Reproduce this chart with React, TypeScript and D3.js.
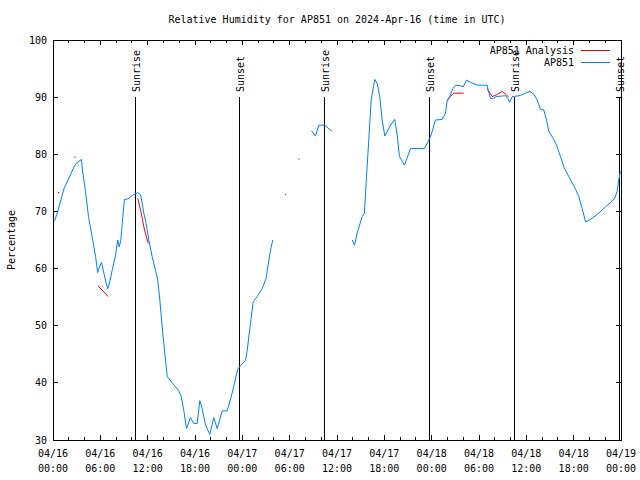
import React from "react";
import * as d3 from "d3";

const TITLE = "Relative Humidity for AP851 on 2024-Apr-16 (time in UTC)";
const Y_LABEL = "Percentage";
const SERIES_NAMES = ["AP851 Analysis", "AP851"];
const SERIES_COLORS = ["#ff0000", "#0080ff"];
const Y_TICKS = [30, 40, 50, 60, 70, 80, 90, 100];

// hours since 2024-04-16 00:00 UTC; NaN marks a gap
const ap851Hours = [
  0.2, 0.6, 1.4, 2.2, 2.85, 3.6, 3.78, 4.1, 4.5, 4.95, 5.4, 5.65, 5.9, 6.15, 6.45, 6.75, 6.95, 7.2, 7.5, 7.9,
  8.2, 8.4, 8.6, 8.85, 9.05, 9.5, 10.05, 10.75, 11.09, 11.31, 11.51, 11.81, 12.14, 12.57, 12.99, 13.28, 13.54,
  13.84, 14.17, 14.48, 15.11, 15.95, 16.25, 16.58, 16.92, 17.43, 17.85, 18.28, 18.61, 18.91, 19.33, 19.88,
  20.38, 20.81, 21.45, 22.08, 22.71, 23.42, 23.77, 24.4, 24.62, 25.03, 25.38, 25.88, 26.52, 27.02, 27.23,
  27.57, 27.86, NaN,
  29.47, NaN,
  31.16, NaN,
  32.77, 33.27, 33.69, 34.41, 35.39, NaN,
  37.93, 38.22, 38.56, 39.19, 39.48, 39.74, 40.03, 40.33, 40.79, 41.1, 41.42, 41.73, 42.06, 42.78, 43.32,
  43.63, 43.92, 44.55, 45.32, 47.09, 47.76, 48.07, 48.48, 49.33, 49.75, 49.97, 50.3, 50.68, 51.02, 51.66,
  52.0, 52.41, 52.92, 53.77, 55.04, 55.16, 55.46, 55.8, 56.22, 56.94, 57.36, 57.65, 57.9, 58.21, 58.84,
  59.26, 59.89, 60.44, 60.95, 61.38, 61.79, 62.21, 62.56, 62.85, 63.4, 63.82, 64.33, 64.75, 65.38, 66.1,
  66.65, 67.08, 67.5, 67.72, 68.35, 69.18, 70.03, 71.17, 71.51, 71.71, 71.93,
];
const ap851Values = [
  68.3, 70, 74, 76.4, 78.3, 79.1, 76.7, 73.7, 69.1, 65.6, 62.1, 59.3, 60.3, 61.1, 59.2, 57.4, 56.5, 57.7, 59.7, 62.1,
  65, 63.8, 65, 69.1, 72.1, 72.2, 72.8, 73.3, 72.9, 71.4, 69.7, 67.9, 65, 62.1, 59.7, 58, 54.5,
  49.8, 45.2, 41.1, 40, 38.6, 37.6, 35.2, 32, 33.9, 32.9, 32.9, 36.9, 35.5, 32.6, 31,
  33.9, 32, 35.1, 35.1, 38.2, 42.4, 43, 43.9, 45.7, 50.4, 54.2, 55.1, 56.5, 58.3, 60.3,
  63.2, 65, NaN,
  73, NaN,
  79.2, NaN,
  84.1, 83.2, 85.1, 85.1, 84, NaN,
  65, 64.1, 66.2, 69.1, 69.7, 76.1, 82.5, 89.5, 93.1, 92.4, 90.1, 86, 83.2, 85.1, 86.1,
  83.4, 79.6, 78.1, 81, 81, 82.8, 84, 86, 86.1, 87.2, 89.4, 90.1, 91.5, 92.1, 92,
  91.8, 93, 92.6, 92.1, 92.1, 91.25, 89.8, 89.8, 90.1, 90.2, 90.25, 89.8, 89.1, 90.1, 90.2,
  90.3, 90.7, 91, 90.5, 89.5, 87.9, 87.75, 86, 84, 82.8, 81.6, 79.6, 77.8, 76.1, 74.3,
  72.6, 70.5, 68.2, 68.3, 68.8, 69.7, 70.8, 72.2, 73.5, 75.5, 77,
];

const analysisHours = [
  0.7, NaN,
  2.76, NaN,
  5.68, 7.0, NaN,
  10.75, 11.18, 11.6, 12.07, NaN,
  49.97, 50.38, 50.8, 52.07, NaN,
  55.04, 55.24, 55.67, 56.22, 56.94, 57.48, 57.77,
];
const analysisValues = [
  73.3, NaN,
  79.5, NaN,
  57, 55.1, NaN,
  72.3, 69.7, 66.75, 64.4, NaN,
  89.4, 90.1, 90.7, 90.7, NaN,
  91.5, 91, 90.1, 90.4, 91, 90.4, 90,
];

const SUN_LABELS = ["Sunrise", "Sunset", "Sunrise", "Sunset", "Sunrise", "Sunset"];
const SUN_HOURS = [10.5, 23.68, 34.41, 47.76, 58.54, 71.81];

const START = Date.UTC(2024, 3, 16, 0, 0);
const END = Date.UTC(2024, 3, 19, 0, 0);
const toDate = (h: number) => new Date(START + h * 3600 * 1000);

const FONT = "'DejaVu Sans Mono', monospace";

function segments(hours: number[], values: number[]) {
  const segs: [Date, number][][] = [];
  let cur: [Date, number][] = [];
  hours.forEach((h, i) => {
    if (isNaN(h) || isNaN(values[i])) {
      if (cur.length) segs.push(cur);
      cur = [];
    } else cur.push([toDate(h), values[i]]);
  });
  if (cur.length) segs.push(cur);
  return segs;
}

export default function App() {
  const W = 640, H = 480;
  const L = 53, R = 621, T = 40, B = 440;
  const x = d3.scaleUtc().domain([new Date(START), new Date(END)]).range([L, R]);
  const y = d3.scaleLinear().domain([30, 100]).range([B, T]);
  const line = d3.line<[Date, number]>().x((d) => x(d[0])).y((d) => y(d[1]));

  const minorTicks = x.ticks(d3.utcHour.every(2)!);
  const majorTicks = x.ticks(d3.utcHour.every(6)!);
  const fmtDay = d3.utcFormat("%m/%d");
  const fmtTime = d3.utcFormat("%H:%M");

  const drawSeries = (hours: number[], values: number[], color: string, key: string) =>
    segments(hours, values).map((seg, i) =>
      seg.length === 1 ? (
        <rect key={key + i} x={x(seg[0][0]) - 0.5} y={y(seg[0][1]) - 0.5} width={1.2} height={1.2} fill={color} />
      ) : (
        <path key={key + i} d={line(seg)!} fill="none" stroke={color} strokeWidth={1} />
      )
    );

  return (
    <svg width={W} height={H} style={{ position: "absolute", left: 0, top: 0, background: "#fff" }} fontFamily={FONT} fontSize={10}>
      <rect x={0} y={0} width={W} height={H} fill="#fff" />
      <text x={(L + R) / 2} y={23} textAnchor="middle">{TITLE}</text>
      <text transform={`translate(15,${(T + B) / 2}) rotate(-90)`} textAnchor="middle">{Y_LABEL}</text>

      {/* y ticks */}
      {Y_TICKS.map((t) => (
        <g key={"y" + t} shapeRendering="crispEdges">
          <line x1={L} x2={L + 5} y1={y(t)} y2={y(t)} stroke="#000" />
          <line x1={R} x2={R - 5} y1={y(t)} y2={y(t)} stroke="#000" />
          <text x={47} y={y(t) + 3.5} textAnchor="end">{t}</text>
        </g>
      ))}

      {/* x ticks */}
      {minorTicks.map((t, i) => (
        <g key={"mx" + i} shapeRendering="crispEdges">
          <line x1={x(t)} x2={x(t)} y1={B} y2={B - 3} stroke="#000" />
          <line x1={x(t)} x2={x(t)} y1={T} y2={T + 3} stroke="#000" />
        </g>
      ))}
      {majorTicks.map((t, i) => (
        <g key={"x" + i} shapeRendering="crispEdges">
          <line x1={x(t)} x2={x(t)} y1={B} y2={B - 5} stroke="#000" />
          <line x1={x(t)} x2={x(t)} y1={T} y2={T + 5} stroke="#000" />
          <text x={x(t)} y={457} textAnchor="middle">{fmtDay(t)}</text>
          <text x={x(t)} y={472} textAnchor="middle">{fmtTime(t)}</text>
        </g>
      ))}

      {/* sunrise / sunset */}
      {SUN_HOURS.map((h, i) => {
        const sx = x(toDate(h));
        return (
          <g key={"sun" + i}>
            <line x1={sx} x2={sx} y1={y(90)} y2={B} stroke="#000" strokeWidth={1.2} shapeRendering="crispEdges" />
            <text transform={`translate(${sx + 4.5},92) rotate(-90)`} textAnchor="start">{SUN_LABELS[i]}</text>
          </g>
        );
      })}

      {/* series */}
      {drawSeries(analysisHours, analysisValues, SERIES_COLORS[0], "an")}
      {drawSeries(ap851Hours, ap851Values, SERIES_COLORS[1], "ap")}

      {/* legend */}
      {SERIES_NAMES.map((n, i) => (
        <g key={"lg" + i}>
          <text x={574} y={54 + i * 12} textAnchor="end">{n}</text>
          <line x1={581} x2={610} y1={50 + i * 12} y2={50 + i * 12} stroke={SERIES_COLORS[i]} shapeRendering="crispEdges" />
        </g>
      ))}

      <rect x={L} y={T} width={R - L} height={B - T} fill="none" stroke="#000" shapeRendering="crispEdges" />
    </svg>
  );
}
